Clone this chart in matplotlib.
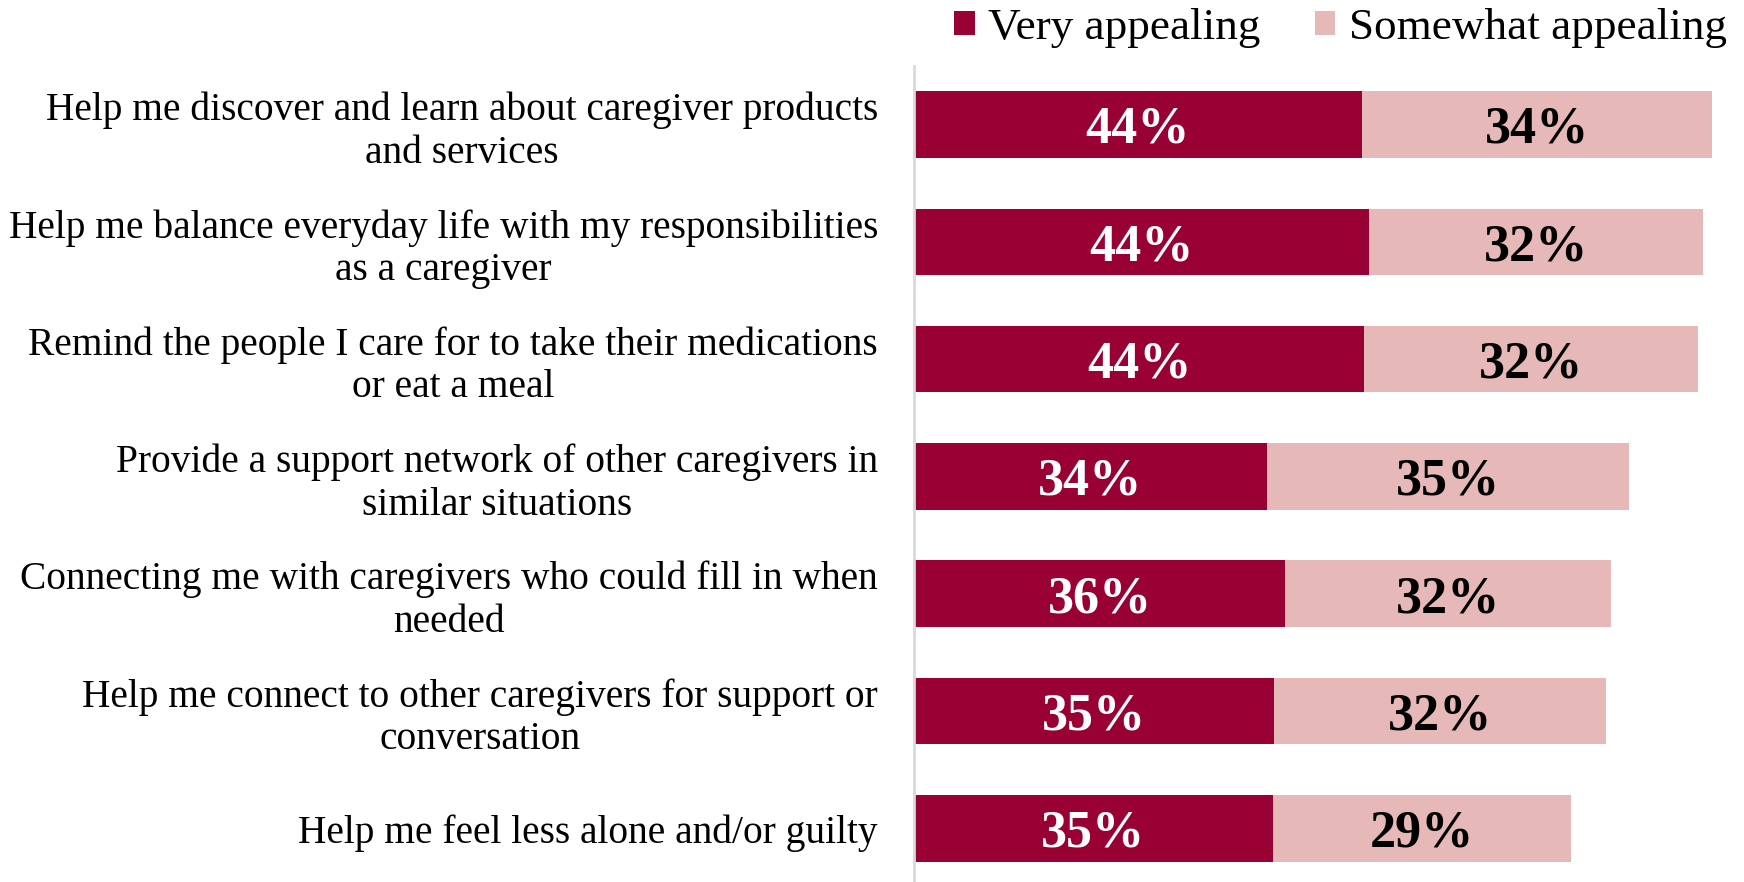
"""
Caregiver app features: share of respondents rating each feature appealing.
"""

import matplotlib.pyplot as plt
from matplotlib.patches import Patch

features = [
    "Help me discover and learn about caregiver products\nand services",
    "Help me balance everyday life with my responsibilities\nas a caregiver",
    "Remind the people I care for to take their medications\nor eat a meal",
    "Provide a support network of other caregivers in\nsimilar situations",
    "Connecting me with caregivers who could fill in when\nneeded",
    "Help me connect to other caregivers for support or\nconversation",
    "Help me feel less alone and/or guilty",
]

# bar lengths (percent)
very_appealing = [43.7, 44.4, 43.9, 34.4, 36.2, 35.1, 35.0]
somewhat_appealing = [34.2, 32.6, 32.6, 35.4, 31.8, 32.4, 29.1]

# labels as printed on the chart
very_labels = [44, 44, 44, 34, 36, 35, 35]
somewhat_labels = [34, 32, 32, 35, 32, 32, 29]

DARK = "#990033"
LIGHT = "#E6B8B7"
FONT = "Liberation Serif"


def main() -> None:
    plt.rcParams["font.family"] = FONT

    fig = plt.figure(figsize=(17.44, 8.82), dpi=100)
    ax = fig.add_axes([0.5241, 0.0, 0.4759, 0.9255])

    y = list(range(len(features)))

    ax.barh(y, very_appealing, height=0.567, color=DARK)
    ax.barh(y, somewhat_appealing, left=very_appealing,
            height=0.567, color=LIGHT)

    # value labels centred in each segment
    for i in y:
        ax.text(very_appealing[i] / 2, i, f"{very_labels[i]}%",
                ha="center", va="center_baseline", color="white",
                fontsize=37.5, fontweight="bold")
        ax.text(very_appealing[i] + somewhat_appealing[i] / 2, i,
                f"{somewhat_labels[i]}%",
                ha="center", va="center_baseline", color="black",
                fontsize=37.5, fontweight="bold")

    ax.set_xlim(0, 81)
    ax.set_ylim(6.458, -0.501)

    ax.set_yticks(y)
    ax.set_yticklabels(features, fontsize=28.4, multialignment="center")
    ax.tick_params(axis="y", length=0, pad=26)
    ax.set_xticks([])

    for side in ["top", "right", "bottom"]:
        ax.spines[side].set_visible(False)
    ax.spines["left"].set_color("#d9d9d9")
    ax.spines["left"].set_linewidth(2)

    handles = [
        Patch(facecolor=DARK, label="Very appealing"),
        Patch(facecolor=LIGHT, label="Somewhat appealing"),
    ]
    fig.legend(
        handles=handles,
        loc="center right",
        bbox_to_anchor=(0.990, 1 - 28 / 882),
        ncol=2,
        frameon=False,
        fontsize=32.5,
        handlelength=0.45,
        handleheight=0.45,
        handletextpad=0.3,
        columnspacing=1.2,
        borderpad=0,
        borderaxespad=0,
    )

    fig.savefig("out.png", dpi=100)


if __name__ == "__main__":
    main()
